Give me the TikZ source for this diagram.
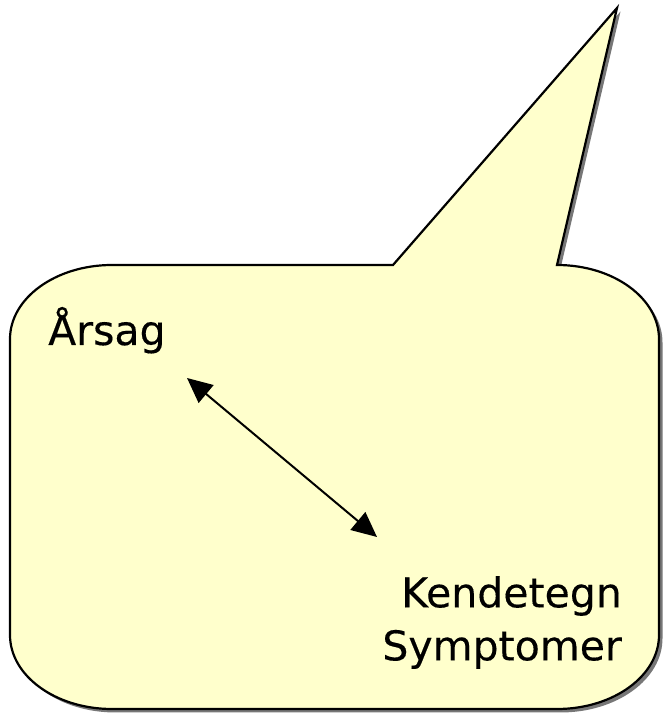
\documentclass[tikz,border=0pt]{standalone}
\usepackage{fontspec}
\setmainfont{DejaVu Sans}
\newfontfamily\labelfont[FakeBold=0.3]{DejaVu Sans}
\usetikzlibrary{arrows.meta}
\definecolor{bubble}{HTML}{FFFFCC}
\definecolor{shadowgrey}{HTML}{777777}
\tikzset{
  label text/.style={inner sep=0pt, font=\labelfont\fontsize{41pt}{53pt}\selectfont},
  link/.style={line width=2pt, {Triangle[length=25pt,width=23pt]}-{Triangle[length=25pt,width=23pt]}},
}
\newcommand{\bubblepath}{(393,450) -- (617,707) -- (557,450)
  arc[start angle=90,end angle=0,x radius=102,y radius=74] -- (659,80)
  arc[start angle=0,end angle=-90,x radius=102,y radius=74] -- (112,6)
  arc[start angle=270,end angle=180,x radius=102,y radius=74] -- (10,376)
  arc[start angle=180,end angle=90,x radius=102,y radius=74] -- cycle}
\begin{document}
\begin{tikzpicture}[x=1pt,y=1pt]
\useasboundingbox (0,0) rectangle (665,715);
\begin{scope}[shift={(3.5,-3.5)}]
  \fill[shadowgrey] \bubblepath;
\end{scope}
\filldraw[fill=bubble, draw=black, line width=2.2pt, line join=miter] \bubblepath;
\node[label text, anchor=base west] (cause) at (48,370) {Årsag};
\node[label text, anchor=north east, align=right] (sign) at (622,139) {Kendetegn\\Symptomer};
\coordinate (a1) at (187,337);
\coordinate (a2) at (377,178);
\draw[link] (a1) -- (a2);
\end{tikzpicture}
\end{document}
